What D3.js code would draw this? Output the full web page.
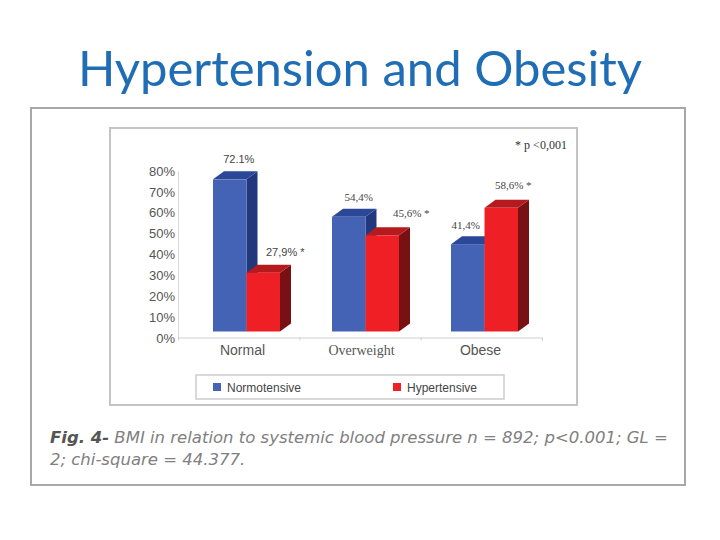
<!DOCTYPE html>
<html>
<head>
<meta charset="utf-8">
<script src="https://cdn.jsdelivr.net/npm/d3@7"></script>
<style>
  body { margin: 0; background: #fff; }
  svg { display: block; }
</style>
</head>
<body>
<svg id="chart" width="720" height="540"></svg>
<script>
// data
var categories = ["Normal", "Overweight", "Obese"];
var series = ["Normotensive", "Hypertensive"];
var normotensive = [72.1, 54.4, 41.4];
var hypertensive = [27.9, 45.6, 58.6];
var valueLabels = [["72.1%", "27,9% *"], ["54,4%", "45,6% *"], ["41,4%", "58,6% *"]];
var yTicks = [0, 10, 20, 30, 40, 50, 60, 70, 80];

var colors = {
    Normotensive: { front: "#4563b4", top: "#2c4797", side: "#22387e" },
    Hypertensive: { front: "#ee2026", top: "#b51a1e", side: "#781114" }
};

var svg = d3.select("#chart");

// title
svg.append("text")
    .attr("x", 360)
    .attr("y", 86)
    .attr("text-anchor", "middle")
    .style("font-family", "Lato, 'Open Sans', sans-serif")
    .style("font-size", "49px")
    .style("fill", "#1f6db4")
    .text("Hypertension and Obesity");

// outer figure frame
svg.append("rect")
    .attr("x", 31).attr("y", 108)
    .attr("width", 654).attr("height", 377)
    .attr("fill", "#fff")
    .attr("stroke", "#a8a8a8")
    .attr("stroke-width", 2);

// chart frame
svg.append("rect")
    .attr("x", 110).attr("y", 128)
    .attr("width", 467).attr("height", 277)
    .attr("fill", "#fff")
    .attr("stroke", "#c4c4c4")
    .attr("stroke-width", 2);

// scales
var xc = d3.scalePoint().domain(categories).range([246.5, 484.5]);
var xs = d3.scaleBand().domain(series).range([-33.5, 33.5]);
var yAxisScale = d3.scaleLinear().domain([0, 80]).range([338, 171]);
var yBar = d3.scaleLinear().domain([0, 80]).range([331.5, 162.7]);
var depth = { dx: 11, dy: 8 };

// y axis
var yAxis = svg.append("g")
    .attr("transform", "translate(178,0)")
    .call(d3.axisLeft(yAxisScale).tickValues(yTicks).tickSize(0).tickPadding(3)
        .tickFormat(function(d) { return d + "%"; }));
yAxis.select(".domain").attr("stroke", "#d6d6d6");
yAxis.selectAll("text")
    .style("font-family", "'Liberation Sans', Arial, sans-serif")
    .style("font-size", "13px")
    .style("fill", "#555");

// x axis line
var xAxis = svg.append("g")
    .attr("transform", "translate(0,337.5)")
    .call(d3.axisBottom(d3.scaleLinear().domain([0, 3]).range([178, 542]))
        .tickValues([1, 2, 3]).tickSize(3).tickFormat(""));
xAxis.select(".domain").attr("stroke", "#cfcfcf");
xAxis.selectAll(".tick line").attr("stroke", "#cfcfcf");

// category labels
var catFonts = ["'Liberation Sans', Arial, sans-serif", "'Liberation Serif', 'Times New Roman', serif", "'Liberation Sans', Arial, sans-serif"];
svg.selectAll(".catlabel")
    .data(categories)
    .enter().append("text")
    .attr("class", "catlabel")
    .attr("x", function(d) { return xc(d) - 4; })
    .attr("y", 355)
    .attr("text-anchor", "middle")
    .style("font-family", function(d, i) { return catFonts[i]; })
    .style("font-size", "14px")
    .style("fill", "#555")
    .text(function(d) { return d; });

// build bar table
var bars = [];
categories.forEach(function(c, i) {
    bars.push({ cat: c, s: "Normotensive", v: normotensive[i], label: valueLabels[i][0] });
});
categories.forEach(function(c, i) {
    bars.push({ cat: c, s: "Hypertensive", v: hypertensive[i], label: valueLabels[i][1] });
});

function pts(a) { return a.map(function(p) { return p.join(","); }).join(" "); }

var g = svg.selectAll(".bar")
    .data(bars)
    .enter().append("g")
    .attr("class", "bar");

g.each(function(d) {
    var x0 = xc(d.cat) + xs(d.s);
    var w = xs.bandwidth();
    var yt = yBar(d.v);
    var yb = yBar(0);
    var el = d3.select(this);
    var c = colors[d.s];
    el.append("polygon")
        .attr("points", pts([[x0 + w, yt], [x0 + w + depth.dx, yt - depth.dy], [x0 + w + depth.dx, yb - depth.dy], [x0 + w, yb]]))
        .attr("fill", c.side);
    el.append("polygon")
        .attr("points", pts([[x0, yt], [x0 + depth.dx, yt - depth.dy], [x0 + w + depth.dx, yt - depth.dy], [x0 + w, yt]]))
        .attr("fill", c.top);
    el.append("rect")
        .attr("x", x0).attr("y", yt)
        .attr("width", w).attr("height", yb - yt)
        .attr("fill", c.front);
});

// value labels (offset from the bar's front-top centre)
var labelOffsets = {
    Normal: { Normotensive: [9, -16], Hypertensive: [22, -17] },
    Overweight: { Normotensive: [10, -16], Hypertensive: [29, -18] },
    Obese: { Normotensive: [-2, -15], Hypertensive: [12, -19] }
};
svg.selectAll(".vlabel")
    .data(bars)
    .enter().append("text")
    .attr("class", "vlabel")
    .attr("x", function(d) { return xc(d.cat) + xs(d.s) + xs.bandwidth() / 2 + labelOffsets[d.cat][d.s][0]; })
    .attr("y", function(d) { return yBar(d.v) + labelOffsets[d.cat][d.s][1]; })
    .attr("text-anchor", "middle")
    .style("font-family", function(d) { return d.cat === "Normal" ? "'Liberation Sans', Arial, sans-serif" : "'Liberation Serif', serif"; })
    .style("font-size", "11px")
    .style("fill", "#444")
    .text(function(d) { return d.label; });

// significance note
svg.append("text")
    .attr("x", 541).attr("y", 149)
    .attr("text-anchor", "middle")
    .style("font-family", "'Liberation Serif', serif")
    .style("font-size", "12px")
    .style("fill", "#333")
    .text("* p <0,001");

// legend
var legend = svg.append("g");
legend.append("rect")
    .attr("x", 196).attr("y", 375)
    .attr("width", 308).attr("height", 24)
    .attr("fill", "#fff")
    .attr("stroke", "#cdcdcd")
    .attr("stroke-width", 1.5);
var legendX = [213, 393];
series.forEach(function(s, i) {
    legend.append("rect")
        .attr("x", legendX[i]).attr("y", 383)
        .attr("width", 8).attr("height", 8)
        .attr("fill", colors[s].front);
    legend.append("text")
        .attr("x", legendX[i] + 14).attr("y", 391.5)
        .style("font-family", "'Liberation Sans', Arial, sans-serif")
        .style("font-size", "12px")
        .style("fill", "#444")
        .text(s);
});

// caption
var caption = ["Fig. 4- BMI in relation to systemic blood pressure n = 892; p<0.001; GL =",
               "2; chi-square = 44.377."];
var cap = svg.append("text")
    .style("font-family", "'DejaVu Sans', sans-serif")
    .style("font-style", "italic")
    .style("font-size", "16.5px")
    .style("fill", "#808080");
var line1 = cap.append("tspan").attr("x", 50).attr("y", 443);
line1.append("tspan").style("font-weight", "bold").style("fill", "#555").text(caption[0].slice(0, 7));
line1.append("tspan").text(caption[0].slice(7));
cap.append("tspan").attr("x", 50).attr("y", 465).text(caption[1]);
</script>
</body>
</html>
